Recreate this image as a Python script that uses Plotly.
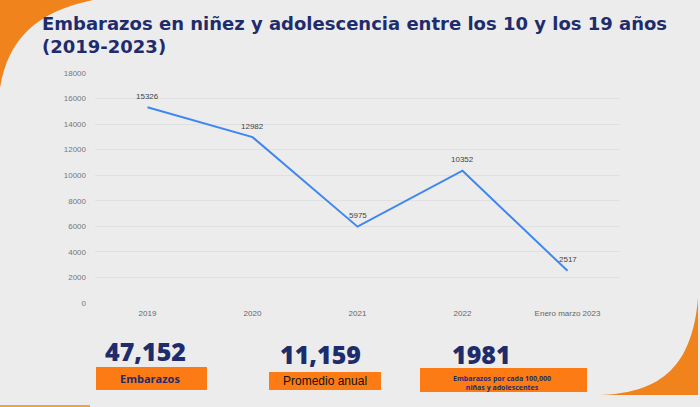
import plotly.graph_objects as go

# ---- data ----
categories = ["2019", "2020", "2021", "2022", "Enero marzo 2023"]
embarazos = [15326, 12982, 5975, 10352, 2517]
y_ticks = [0, 2000, 4000, 6000, 8000, 10000, 12000, 14000, 16000, 18000]
title_line1 = "Embarazos en niñez y adolescencia entre los 10 y los 19 años"
title_line2 = "(2019-2023)"
stat_values = ["47,152", "11,159", "1981"]
stat_labels = ["Embarazos", "Promedio anual", "Embarazos por cada 100,000<br>niñas y adolescentes"]

# ---- layout helpers (pixel -> paper) ----
W, H = 700, 407
L, R, T, B = 95, 80, 73, 104
PW, PH = W - L - R, H - T - B


def px(x):
    return (x - L) / PW


def py(y):
    return (H - B - y) / PH


NAVY = "#1f2c6c"
ORANGE = "#fd7b14"
ORANGE_C = "#f0831c"
BG = "#ececec"

fig = go.Figure()
fig.add_trace(go.Scatter(
    x=categories, y=embarazos, mode="lines",
    line=dict(color="#3f87f0", width=2),
    hoverinfo="skip", showlegend=False,
))

shapes = []

# top-left orange corner
p0 = (px(0), py(0)); p1 = (px(93), py(0))
c1 = (px(35), py(12)); c2 = (px(8), py(40)); p3 = (px(0), py(88))
shapes.append(dict(type="path", xref="paper", yref="paper", layer="below",
                   path=f"M {p0[0]},{p0[1]} L {p1[0]},{p1[1]} C {c1[0]},{c1[1]} {c2[0]},{c2[1]} {p3[0]},{p3[1]} Z",
                   fillcolor=ORANGE_C, line=dict(width=0)))
# bottom-right orange corner
a = (px(600), py(395)); b1 = (px(655), py(393)); b2 = (px(692), py(372)); a3 = (px(698), py(298)); a4 = (px(698), py(395))
shapes.append(dict(type="path", xref="paper", yref="paper", layer="below",
                   path=f"M {a[0]},{a[1]} C {b1[0]},{b1[1]} {b2[0]},{b2[1]} {a3[0]},{a3[1]} L {a4[0]},{a4[1]} Z",
                   fillcolor=ORANGE_C, line=dict(width=0)))
# thin bottom-left line
shapes.append(dict(type="rect", xref="paper", yref="paper", layer="below",
                   x0=px(0), x1=px(90), y0=py(407), y1=py(405),
                   fillcolor="#f3a33a", line=dict(width=0)))

# stat boxes
boxes = [(96, 207, 367, 390), (269, 381, 372, 390), (420, 587, 368, 392)]
for (x0, x1, y0, y1) in boxes:
    shapes.append(dict(type="rect", xref="paper", yref="paper", layer="above",
                       x0=px(x0), x1=px(x1), y0=py(y1), y1=py(y0),
                       fillcolor=ORANGE, line=dict(width=0)))

annotations = []
# data labels (category index positions)
for i, v in enumerate(embarazos):
    annotations.append(dict(x=i, y=v, xref="x", yref="y", text=str(v), showarrow=False,
                            yshift=11, font=dict(family="Liberation Sans", size=8, color="#444444")))

annotations.append(dict(x=px(40), y=py(24), xref="paper", yref="paper", xanchor="left", yanchor="middle",
                        text=f"<b>{title_line1}</b>", showarrow=False,
                        font=dict(family="DejaVu Sans", size=18, color=NAVY)))
annotations.append(dict(x=px(40), y=py(46), xref="paper", yref="paper", xanchor="left", yanchor="middle",
                        text=f"<b>{title_line2}</b>", showarrow=False,
                        font=dict(family="DejaVu Sans", size=18, color=NAVY)))

value_pos = [(145, 351), (320, 354), (481, 354)]
for v, (x, y) in zip(stat_values, value_pos):
    annotations.append(dict(x=px(x), y=py(y), xref="paper", yref="paper", xanchor="center", yanchor="middle",
                            text=v, showarrow=False,
                            font=dict(family="Open Sans", size=25, color=NAVY, weight=800)))

annotations.append(dict(x=px(150), y=py(378), xref="paper", yref="paper", xanchor="center", yanchor="middle",
                        text=f"<b>{stat_labels[0]}</b>", showarrow=False,
                        font=dict(family="Open Sans", size=11, color=NAVY)))
annotations.append(dict(x=px(325), y=py(381), xref="paper", yref="paper", xanchor="center", yanchor="middle",
                        text=stat_labels[1], showarrow=False,
                        font=dict(family="Liberation Sans", size=12, color="#111111")))
annotations.append(dict(x=px(502), y=py(383), xref="paper", yref="paper", xanchor="center", yanchor="middle",
                        text=f"<b>{stat_labels[2]}</b>", showarrow=False,
                        font=dict(family="Open Sans", size=7, color=NAVY)))

fig.update_layout(
    width=W, height=H,
    margin=dict(l=L, r=R, t=T, b=B),
    paper_bgcolor=BG, plot_bgcolor=BG,
    shapes=shapes, annotations=annotations,
    showlegend=False,
    xaxis=dict(type="category", range=[-0.5, 4.5], showgrid=False, zeroline=False, showline=False,
               tickfont=dict(family="Liberation Sans", size=8, color="#666666"),
               ticks="", ticklabelstandoff=4),
    yaxis=dict(range=[0, 18000], tickvals=y_ticks, tickformat="d", showgrid=True,
               gridcolor="#e0e0e0", gridwidth=1,
               zeroline=False, showline=False,
               tickfont=dict(family="Liberation Sans", size=8, color="#777777"),
               ticks="", ticklabelstandoff=8),
)

fig.write_html("out.html", config={"displayModeBar": False},
               post_script="document.body.style.margin='0';document.body.style.background='#ececec';")
